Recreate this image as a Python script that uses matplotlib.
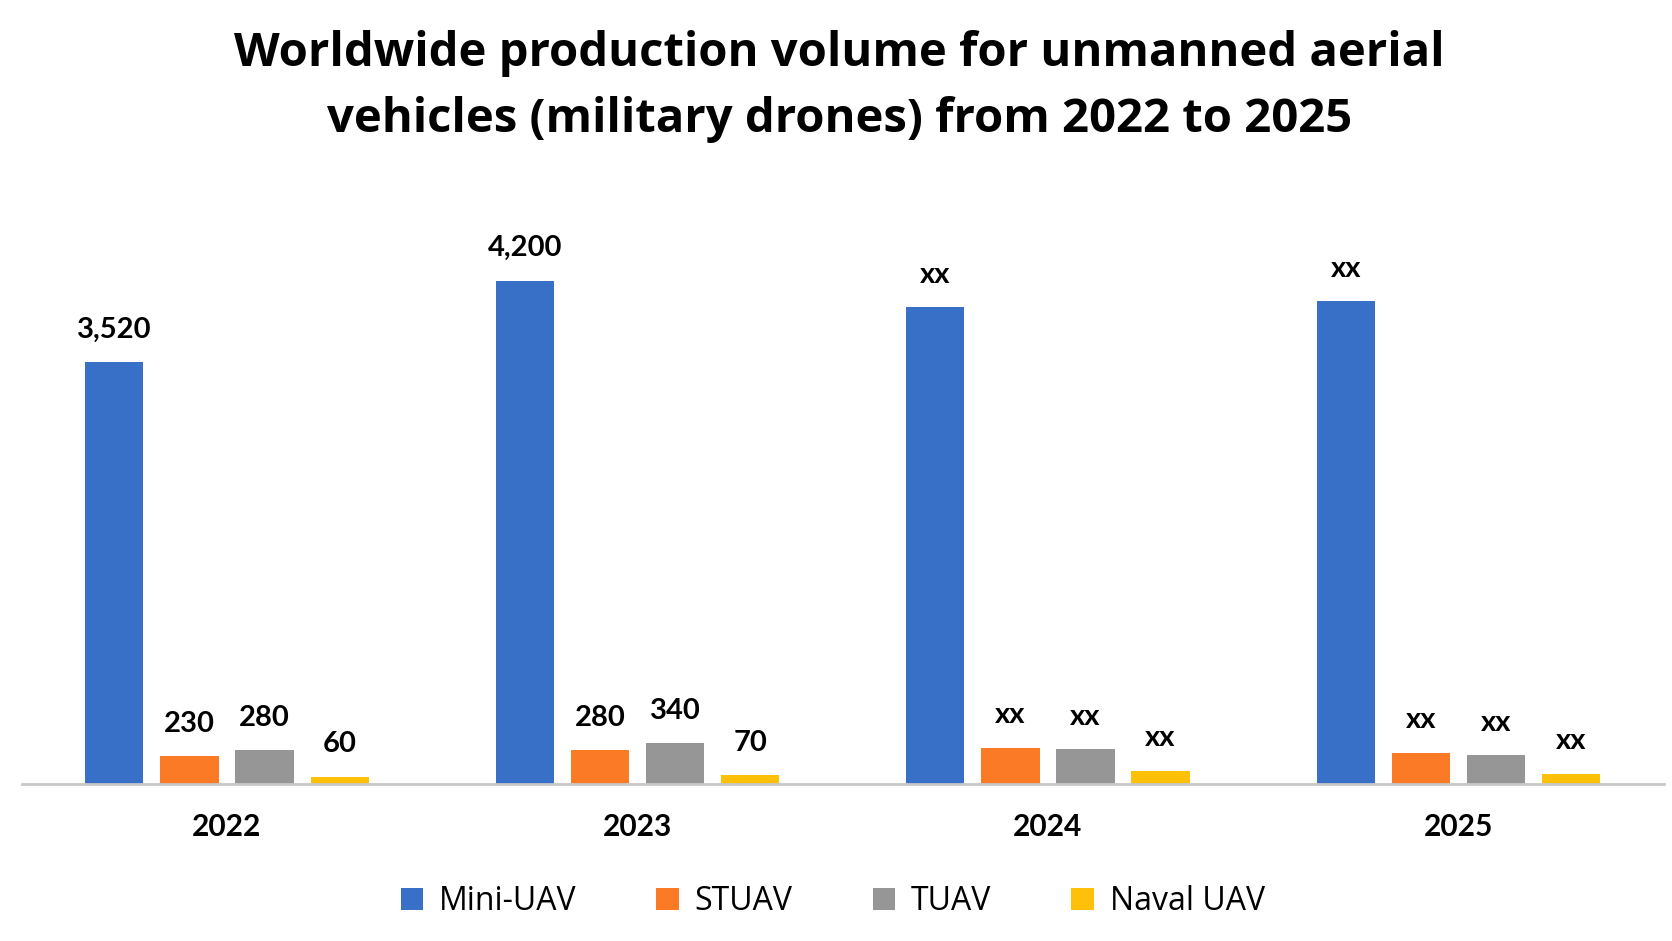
import matplotlib
matplotlib.use("Agg")
import matplotlib.pyplot as plt
import numpy as np

# Data read off the chart ("xx" years are estimated from bar heights)
years = ["2022", "2023", "2024", "2025"]
series = ["Mini-UAV", "STUAV", "TUAV", "Naval UAV"]
mini_uav = [3520, 4200, 3980, 4030]
stuav = [230, 280, 300, 260]
tuav = [280, 340, 290, 240]
naval_uav = [60, 70, 110, 85]
mini_labels = ["3,520", "4,200", "xx", "xx"]
stuav_labels = ["230", "280", "xx", "xx"]
tuav_labels = ["280", "340", "xx", "xx"]
naval_labels = ["60", "70", "xx", "xx"]

colors = ["#3870C8", "#FA7A25", "#969696", "#FFC00A"]

fig = plt.figure(figsize=(16.72, 9.41), dpi=100)
ax = fig.add_axes([0.013, 0.167, 0.982, 0.62])

x = np.arange(len(years))
bar_w = 0.142
pitch = 0.183
all_vals = [mini_uav, stuav, tuav, naval_uav]
all_labels = [mini_labels, stuav_labels, tuav_labels, naval_labels]

for i, (vals, labs) in enumerate(zip(all_vals, all_labels)):
    pos = x + (i - 1.5) * pitch
    bars = ax.bar(pos, vals, width=bar_w, color=colors[i], label=series[i])
    for b, lab in zip(bars, labs):
        ax.annotate(lab, (b.get_x() + b.get_width() / 2, b.get_height()),
                    xytext=(0, 14), textcoords="offset points",
                    ha="center", va="bottom", fontsize=21,
                    fontweight="bold", family="Lato")

ax.set_xlim(-0.5, 3.5)
ax.set_ylim(0, 4870)
ax.set_xticks(x)
ax.set_xticklabels(years, fontsize=21.5, fontweight="bold", family="Lato")
ax.tick_params(axis="x", length=0, pad=21)
ax.set_yticks([])
for s in ["top", "right", "left"]:
    ax.spines[s].set_visible(False)
ax.spines["bottom"].set_color("#C8C8C8")
ax.spines["bottom"].set_linewidth(2)

fig.text(0.502, 0.908,
         "Worldwide production volume for unmanned aerial\nvehicles (military drones) from 2022 to 2025",
         ha="center", va="center", fontsize=34, fontweight="bold",
         family="Open Sans", linespacing=1.54)

leg = fig.legend(loc="center", bbox_to_anchor=(0.498, 0.042), ncol=4,
                 frameon=False, prop={"family": "Open Sans", "size": 23},
                 handlelength=0.7, handleheight=0.7, handletextpad=0.5,
                 columnspacing=2.5)

fig.savefig("out.png", dpi=100, facecolor="white")
